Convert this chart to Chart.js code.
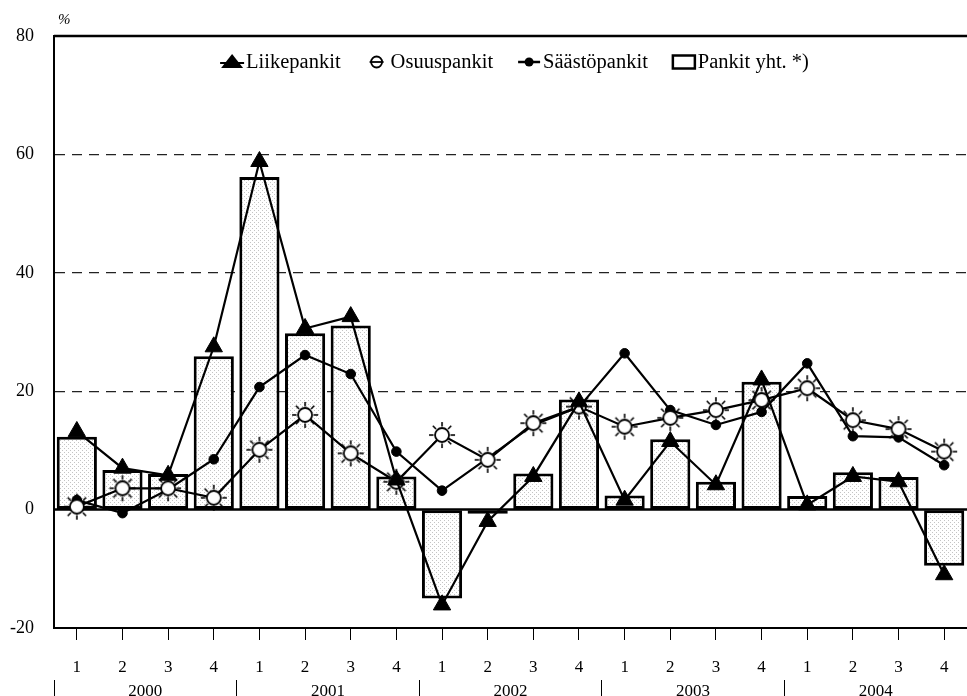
<!DOCTYPE html>
<html>
<head>
<meta charset="utf-8">
<script src="https://cdn.jsdelivr.net/npm/chart.js@4/dist/chart.umd.min.js"></script>
<style>
html,body{margin:0;padding:0;background:#fff;overflow:hidden}
#c{display:block}
</style>
</head>
<body>
<canvas id="c" width="967" height="696"></canvas>
<script>
// ---- data ----
const quarterLabels = ['1','2','3','4','1','2','3','4','1','2','3','4','1','2','3','4','1','2','3','4'];
const yearLabels = ['2000','2001','2002','2003','2004'];
const seriesNames = ['Liikepankit','Osuuspankit','Säästöpankit','Pankit yht. *)'];
const liikepankit  = [13.2, 7.0, 5.8, 27.5, 58.8, 30.6, 32.6, 5.0, -16.1, -2.0, 5.6, 18.2, 1.6, 11.5, 4.2, 21.9, 0.8, 5.6, 4.7, -11.0];
const osuuspankit  = [0.5, 3.6, 3.6, 2.0, 10.1, 16.0, 9.5, 4.7, 12.6, 8.4, 14.6, 17.4, 14.0, 15.5, 16.8, 18.5, 20.5, 15.1, 13.6, 9.8];
const saastopankit = [1.6, -0.6, 3.4, 8.5, 20.7, 26.1, 22.9, 9.8, 3.2, 8.7, 14.3, 17.3, 26.4, 16.8, 14.3, 16.5, 24.7, 12.4, 12.2, 7.5];
const pankitYht    = [12.3, 6.7, 6.0, 25.9, 56.2, 29.8, 31.1, 5.6, -15.0, -0.7, 6.1, 18.6, 2.4, 11.9, 4.7, 21.6, 2.3, 6.3, 5.5, -9.5];
const yTicks = [-20, 0, 20, 40, 60, 80];
const dashedAt = [20, 40, 60];

// ---- marker images ----
function makeCanvas(w, h){ const c = document.createElement('canvas'); c.width = w; c.height = h; return c; }
function makeSun(){
  const c = makeCanvas(30, 30), g = c.getContext('2d');
  g.translate(15, 15); g.strokeStyle = '#000'; g.lineWidth = 1.6;
  for (let i = 0; i < 8; i++) {
    const a = i * Math.PI / 4;
    g.beginPath(); g.moveTo(Math.cos(a) * 8.5, Math.sin(a) * 8.5); g.lineTo(Math.cos(a) * 13, Math.sin(a) * 13); g.stroke();
  }
  g.beginPath(); g.arc(0, 0, 7, 0, Math.PI * 2); g.fillStyle = '#fff'; g.fill(); g.lineWidth = 1.8; g.stroke();
  return c;
}
const sunImg = makeSun();

const mainCanvas = document.getElementById('c');
const pc = makeCanvas(4, 4), pg = pc.getContext('2d');
pg.fillStyle = '#fff'; pg.fillRect(0, 0, 4, 4);
pg.fillStyle = '#c4c4c4'; pg.fillRect(0, 0, 1, 1); pg.fillRect(2, 2, 1, 1);
const barPattern = mainCanvas.getContext('2d').createPattern(pc, 'repeat');

// ---- legend icons (drawn at centre cx, cy) ----
const legendIcons = [
  (g, cx, cy) => { g.beginPath(); g.moveTo(cx - 11, cy + 6); g.lineTo(cx, cy - 8); g.lineTo(cx + 11, cy + 6); g.closePath(); g.fill();
                   g.lineWidth = 2; g.beginPath(); g.moveTo(cx - 12, cy + 1); g.lineTo(cx + 12, cy + 1); g.stroke(); },
  (g, cx, cy) => { g.lineWidth = 1.8; g.beginPath(); g.arc(cx, cy, 5.5, 0, Math.PI * 2); g.stroke();
                   g.beginPath(); g.moveTo(cx - 7, cy); g.lineTo(cx + 7, cy); g.stroke(); },
  (g, cx, cy) => { g.lineWidth = 2.5; g.beginPath(); g.moveTo(cx - 11, cy); g.lineTo(cx + 11, cy); g.stroke();
                   g.beginPath(); g.arc(cx, cy, 4.5, 0, Math.PI * 2); g.fill(); },
  (g, cx, cy) => { g.lineWidth = 2.5; g.strokeRect(cx - 11, cy - 6.5, 22, 13); }
];

const overlayPlugin = {
  id: 'overlay',
  beforeDatasetsDraw(chart) {
    const { ctx, chartArea, scales: { y } } = chart;
    const y0 = y.getPixelForValue(0);
    ctx.save();
    ctx.strokeStyle = '#000';
    ctx.lineWidth = 2.5;
    ctx.beginPath();
    ctx.moveTo(chartArea.left, y0); ctx.lineTo(chartArea.right, y0);
    ctx.moveTo(chartArea.left, chartArea.top); ctx.lineTo(chartArea.right, chartArea.top);
    ctx.stroke();
    ctx.restore();
  },
  afterDraw(chart) {
    const { ctx, chartArea } = chart;
    ctx.save();
    ctx.fillStyle = '#000'; ctx.strokeStyle = '#000';
    // unit label
    ctx.font = 'italic 15px "Liberation Serif"';
    ctx.textBaseline = 'middle'; ctx.textAlign = 'left';
    ctx.fillText('%', chartArea.left + 4, chartArea.top - 16);
    // legend
    ctx.font = '20.5px "Liberation Serif"';
    const iconW = 24, iconGap = 2, itemGap = 24;
    const widths = seriesNames.map(t => ctx.measureText(t).width);
    const total = widths.reduce((a, w) => a + iconW + iconGap + w, 0) + itemGap * (seriesNames.length - 1);
    let x = (chartArea.left + chartArea.right) / 2 + 4 - total / 2;
    const cy = chartArea.top + 26;
    seriesNames.forEach((t, i) => {
      legendIcons[i](ctx, x + iconW / 2, cy);
      ctx.fillText(t, x + iconW + iconGap, cy + 1);
      x += iconW + iconGap + widths[i] + itemGap;
    });
    ctx.restore();
  }
};

const serif = { family: '"Liberation Serif", "Times New Roman", serif', size: 17 };

new Chart(mainCanvas, {
  type: 'bar',
  data: {
    labels: quarterLabels,
    datasets: [
      { type: 'line', label: seriesNames[0], data: liikepankit, xAxisID: 'x', borderColor: '#000', borderWidth: 2.2,
        pointStyle: 'triangle', pointRadius: 10, pointBackgroundColor: '#000', pointBorderColor: '#000', pointBorderWidth: 1, tension: 0, fill: false },
      { type: 'line', label: seriesNames[1], data: osuuspankit, xAxisID: 'x', borderColor: '#000', borderWidth: 2.2,
        pointStyle: sunImg, pointRadius: 10, tension: 0, fill: false },
      { type: 'line', label: seriesNames[2], data: saastopankit, xAxisID: 'x', borderColor: '#000', borderWidth: 2.2,
        pointStyle: 'circle', pointRadius: 4.8, pointBackgroundColor: '#000', pointBorderColor: '#000', pointBorderWidth: 1, tension: 0, fill: false },
      { type: 'bar', label: seriesNames[3], data: pankitYht, xAxisID: 'x', backgroundColor: barPattern, borderColor: '#000',
        borderWidth: 3, borderSkipped: false, categoryPercentage: 1, barPercentage: 0.88 }
    ]
  },
  options: {
    responsive: false,
    animation: false,
    devicePixelRatio: 1,
    layout: { autoPadding: false, padding: { top: 36, left: 0, right: 0, bottom: 0 } },
    plugins: { legend: { display: false }, tooltip: { enabled: false } },
    scales: {
      x: {
        position: 'bottom', offset: true,
        grid: { drawOnChartArea: false, offset: false, tickLength: 12, color: '#000', lineWidth: 1 },
        border: { display: true, color: '#000', width: 2 },
        ticks: { color: '#000', font: serif, padding: 17, maxRotation: 0, autoSkip: false },
        afterFit(s) { s.height = 52; }
      },
      x2: {
        type: 'category', labels: yearLabels, position: 'bottom', offset: true,
        grid: { drawOnChartArea: false, offset: true, tickLength: 16, color: '#000', lineWidth: 1 },
        border: { display: false },
        ticks: { color: '#000', font: serif, padding: -15, maxRotation: 0, autoSkip: false },
        afterFit(s) { s.height = 16; }
      },
      y: {
        min: -20, max: 80,
        afterBuildTicks(s) { s.ticks = yTicks.map(v => ({ value: v })); },
        grid: { drawTicks: false, lineWidth: 1.3,
          color: (c) => (c.tick && dashedAt.includes(c.tick.value)) ? '#222' : 'rgba(0,0,0,0)' },
        border: { display: true, color: '#000', width: 2, dash: (c) => c.tick ? [10, 7] : [] },
        ticks: { color: '#000', font: { family: serif.family, size: 18 }, padding: 20 },
        afterFit(s) { s.width = 54; }
      }
    }
  },
  plugins: [overlayPlugin]
});
</script>
</body>
</html>
